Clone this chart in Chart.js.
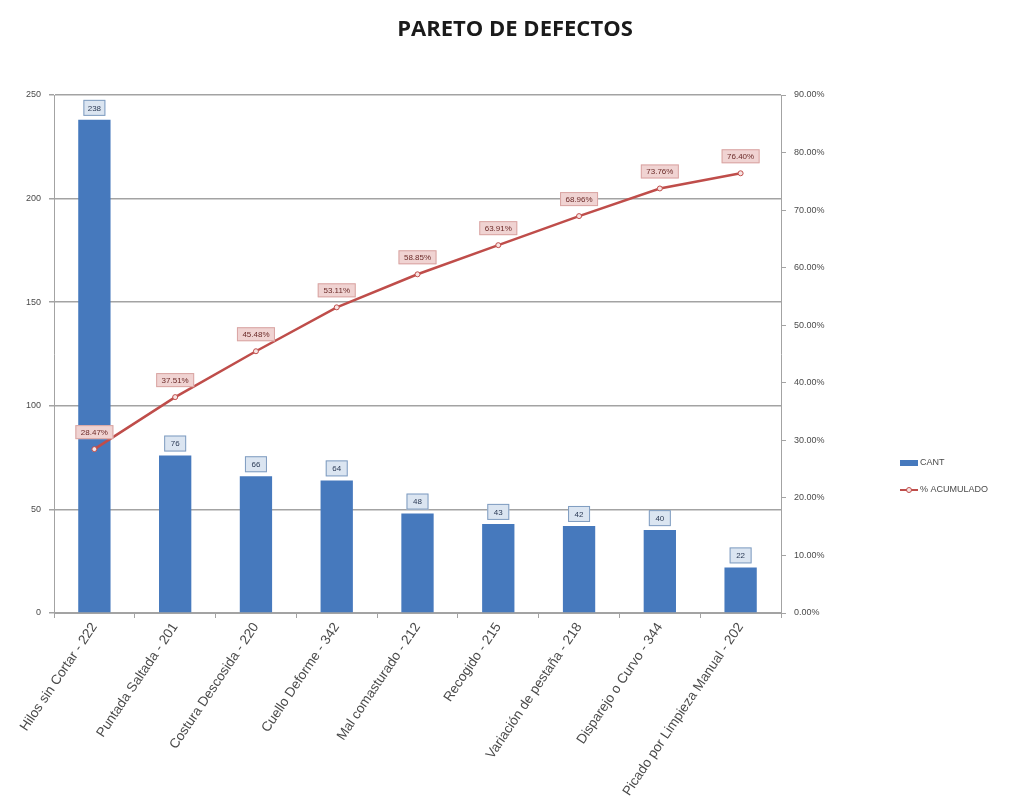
<!DOCTYPE html>
<html>
<head>
<meta charset="utf-8">
<script src="https://cdn.jsdelivr.net/npm/chart.js@4/dist/chart.umd.min.js"></script>
<style>
  html, body { margin: 0; padding: 0; background: #ffffff; }
  #wrap { position: relative; width: 1036px; height: 804px; overflow: hidden; }
</style>
</head>
<body>
<div id="wrap"><canvas id="c" width="1036" height="804"></canvas></div>
<script>
const categories = [
  "Hilos sin Cortar - 222",
  "Puntada Saltada - 201",
  "Costura Descosida - 220",
  "Cuello Deforme - 342",
  "Mal comasturado - 212",
  "Recogido - 215",
  "Variación de pestaña - 218",
  "Disparejo o Curvo - 344",
  "Picado por Limpieza Manual - 202"
];
const cantidades = [238, 76, 66, 64, 48, 43, 42, 40, 22];
const acumulado = [28.47, 37.51, 45.48, 53.11, 58.85, 63.91, 68.96, 73.76, 76.40];
const leftMax = 250, leftStep = 50;
const rightMax = 90, rightStep = 10;
const legendLabels = ["CANT", "% ACUMULADO"];
const chartTitle = "PARETO DE DEFECTOS";

const barColor = '#4679bd';
const lineColor = '#bf4d4a';
const gridColor = '#a3a3a3';
const textColor = '#4a4a4a';

const titlePlugin = {
  id: 'customTitle',
  afterDraw(chart) {
    const ctx = chart.ctx;
    ctx.save();
    ctx.font = 'bold 22px "Open Sans", "Liberation Sans", sans-serif';
    ctx.fillStyle = '#1a1a1a';
    ctx.textAlign = 'center';
    ctx.textBaseline = 'middle';
    ctx.fillText(chartTitle, 515, 30);
    ctx.restore();
  }
};

const labelPlugin = {
  id: 'dataLabels',
  afterDatasetsDraw(chart) {
    const ctx = chart.ctx;
    ctx.save();
    ctx.font = '8px "Liberation Sans", Arial, sans-serif';
    ctx.textAlign = 'center';
    ctx.textBaseline = 'middle';
    const mb = chart.getDatasetMeta(0);
    mb.data.forEach((el, i) => {
      const t = String(cantidades[i]);
      const w = 22, h = 16;
      const x = el.x, y = el.y - 4 - h / 2;
      ctx.fillStyle = '#dbe5f1';
      ctx.strokeStyle = '#7f9cc0';
      ctx.lineWidth = 1;
      ctx.fillRect(x - w / 2, y - h / 2, w, h);
      ctx.strokeRect(x - w / 2 + 0.5, y - h / 2 + 0.5, w - 1, h - 1);
      ctx.fillStyle = '#2b3a55';
      ctx.fillText(t, x, y + 0.5);
    });
    const ml = chart.getDatasetMeta(1);
    ml.data.forEach((el, i) => {
      const t = acumulado[i].toFixed(2) + '%';
      const w = 38, h = 14;
      const x = el.x, y = el.y - 17;
      ctx.fillStyle = '#f0d3d2';
      ctx.strokeStyle = '#d9a5a3';
      ctx.lineWidth = 1;
      ctx.fillRect(x - w / 2, y - h / 2, w, h);
      ctx.strokeRect(x - w / 2 + 0.5, y - h / 2 + 0.5, w - 1, h - 1);
      ctx.fillStyle = '#6b2a28';
      ctx.fillText(t, x, y + 0.5);
    });
    ctx.restore();
  }
};

const legendPlugin = {
  id: 'customLegend',
  afterDraw(chart) {
    const ctx = chart.ctx;
    ctx.save();
    ctx.font = '9px "Liberation Sans", Arial, sans-serif';
    ctx.textBaseline = 'middle';
    ctx.textAlign = 'left';
    const x0 = 900, y1 = 463, y2 = 490;
    ctx.fillStyle = barColor;
    ctx.fillRect(x0, y1 - 3, 18, 6);
    ctx.fillStyle = textColor;
    ctx.fillText(legendLabels[0], x0 + 20, y1);
    ctx.strokeStyle = lineColor;
    ctx.lineWidth = 2;
    ctx.beginPath(); ctx.moveTo(x0, y2); ctx.lineTo(x0 + 18, y2); ctx.stroke();
    ctx.beginPath(); ctx.arc(x0 + 9, y2, 2.5, 0, Math.PI * 2);
    ctx.fillStyle = '#f7e4e3'; ctx.fill(); ctx.lineWidth = 1; ctx.stroke();
    ctx.fillStyle = textColor;
    ctx.fillText(legendLabels[1], x0 + 20, y2);
    ctx.restore();
  }
};

new Chart(document.getElementById('c'), {
  data: {
    labels: categories,
    datasets: [
      {
        type: 'bar',
        label: legendLabels[0],
        data: cantidades,
        backgroundColor: barColor,
        yAxisID: 'y',
        order: 1,
        barPercentage: 0.4,
        categoryPercentage: 1.0
      },
      {
        type: 'line',
        label: legendLabels[1],
        data: acumulado,
        borderColor: lineColor,
        borderWidth: 2.5,
        backgroundColor: '#f7e4e3',
        pointBackgroundColor: '#f7e4e3',
        pointBorderColor: lineColor,
        pointBorderWidth: 1,
        pointRadius: 2.5,
        tension: 0,
        yAxisID: 'y2',
        order: 0
      }
    ]
  },
  options: {
    responsive: false,
    animation: false,
    layout: { padding: { left: 14, right: 185, top: 95, bottom: 0 } },
    plugins: {
      legend: { display: false },
      tooltip: { enabled: false },
      title: { display: false }
    },
    scales: {
      x: {
        offset: true,
        grid: { offset: true, drawOnChartArea: false, tickLength: 5, color: gridColor },
        border: { color: gridColor, width: 1 },
        ticks: {
          autoSkip: false, minRotation: 56, maxRotation: 56,
          color: textColor, padding: 2,
          font: { family: '"Liberation Sans", Arial, sans-serif', size: 13.5 }
        },
        afterFit(s) { s.height = 191; }
      },
      y: {
        position: 'left',
        min: 0, max: leftMax,
        ticks: { stepSize: leftStep, color: textColor, padding: 8,
          font: { family: '"Liberation Sans", Arial, sans-serif', size: 9 } },
        grid: { color: gridColor, lineWidth: 1.5, tickLength: 5 },
        border: { color: gridColor, width: 1 },
        afterFit(s) { s.width = 40; }
      },
      y2: {
        position: 'right',
        min: 0, max: rightMax,
        ticks: { stepSize: rightStep, color: textColor, padding: 8,
          callback: v => Number(v).toFixed(2) + '%',
          font: { family: '"Liberation Sans", Arial, sans-serif', size: 9 } },
        grid: { drawOnChartArea: false, color: gridColor, tickLength: 5 },
        border: { color: gridColor, width: 1 },
        afterFit(s) { s.width = 70; }
      }
    }
  },
  plugins: [labelPlugin, legendPlugin, titlePlugin]
});
</script>
</body>
</html>
